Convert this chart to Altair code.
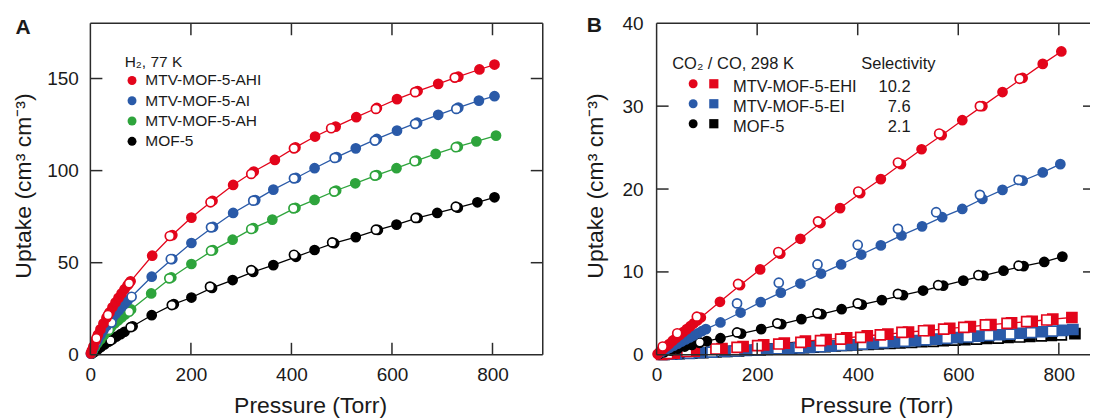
import altair as alt
import pandas as pd

FONT = "Liberation Sans"
INK = "#1a1a1a"
RED, BLUE, GREEN, BLACK = "#e3051b", "#2a5aa8", "#2ea43c", "#000000"

# ---------------- series names / colours ----------------
all_series = ["MTV-MOF-5-AHI", "MTV-MOF-5-AI", "MTV-MOF-5-AH",
              "MTV-MOF-5-EHI", "MTV-MOF-5-EI", "MOF-5"]
all_colors = [RED, BLUE, GREEN, RED, BLUE, BLACK]

# ---------------- Panel A : H2 at 77 K (pressure Torr, uptake cm3/cm3) ----------------
a_series = ["MTV-MOF-5-AHI", "MTV-MOF-5-AI", "MTV-MOF-5-AH", "MOF-5"]
a_colors = [RED, BLUE, GREEN, BLACK]

ahi_ads_p = [1, 3, 6, 10, 15, 20, 26, 32, 38, 44, 50, 56, 62, 68, 74, 80, 123, 163, 201, 243, 284,
             325, 367, 408, 447, 488, 529, 570, 610, 651, 692, 732, 774, 804]
ahi_ads_u = [0.8, 2.3, 4.5, 7.5, 10.9, 13.8, 17.0, 20.1, 23.0, 25.8, 28.4, 30.9, 33.3, 35.6, 37.8, 39.9,
             53.8, 65.0, 74.5, 83.6, 92.2, 99.5, 105.8, 112.6, 118.5, 123.9, 129.0, 134.0, 138.8,
             143.2, 147.1, 151.0, 154.9, 157.6]
ahi_des_p = [12, 35, 77, 158, 239, 320, 405, 479, 568, 646, 725]
ahi_des_u = [9.0, 21.6, 38.8, 64.5, 82.8, 98.2, 112.1, 123.0, 133.5, 142.6, 150.5]

ai_ads_p = [1, 3, 6, 10, 15, 20, 26, 32, 38, 44, 50, 56, 62, 68, 74, 122, 163, 201, 244, 284, 328,
            364, 409, 446, 490, 528, 570, 610, 650, 692, 732, 773, 804]
ai_ads_u = [0.6, 1.8, 3.5, 5.9, 8.5, 10.8, 13.3, 15.7, 17.9, 20.1, 22.2, 24.1, 26.0, 27.8, 29.5,
            42.4, 52.0, 60.7, 69.4, 77.0, 84.0, 89.7, 96.0, 101.3, 107.3, 112.1, 117.2, 121.7,
            126.0, 130.3, 134.2, 138.0, 140.4]
ai_des_p = [12, 42, 82, 160, 240, 324, 405, 486, 566, 646, 728]
ai_des_u = [7.0, 17.5, 31.5, 52.0, 69.2, 83.7, 95.8, 106.9, 116.3, 125.4, 133.5]

ah_ads_p = [2, 5, 9, 14, 20, 27, 34, 41, 48, 55, 62, 69, 81, 121, 161, 201, 244, 283, 324, 362, 408,
            446, 489, 527, 570, 609, 649, 687, 731, 768, 807]
ah_ads_u = [0.9, 2.3, 4.1, 6.3, 8.3, 10.7, 12.8, 15.0, 17.0, 18.6, 20.3, 21.9, 24.6, 33.3, 42.0,
            49.3, 56.8, 62.5, 68.8, 73.4, 79.8, 84.1, 89.2, 93.1, 97.6, 101.3, 105.4, 109.1,
            113.0, 115.9, 119.0]
ah_des_p = [37, 77, 157, 240, 320, 404, 485, 566, 645, 727]
ah_des_u = [13.5, 23.4, 41.5, 56.5, 68.3, 79.5, 88.6, 97.3, 105.1, 112.7]

m5h_ads_p = [3, 8, 14, 21, 28, 36, 44, 52, 60, 68, 84, 122, 166, 201, 242, 283, 324, 364, 409, 446,
             485, 528, 572, 609, 651, 690, 731, 770, 804]
m5h_ads_u = [0.6, 1.6, 2.8, 4.2, 5.6, 7.1, 8.5, 9.9, 11.2, 12.5, 15.5, 21.5, 27.5, 31.1, 36.3, 40.6,
             45.0, 48.7, 53.2, 56.9, 60.6, 63.9, 67.8, 70.7, 74.3, 77.0, 79.9, 82.8, 85.5]
m5h_des_p = [40, 80, 162, 238, 320, 405, 481, 568, 647, 727]
m5h_des_u = [7.8, 15.0, 27.0, 37.0, 46.0, 54.3, 61.0, 67.9, 74.3, 80.4]

# ---------------- Panel B : CO2 (circles) and CO (squares) at 298 K ----------------
b_series = ["MTV-MOF-5-EHI", "MTV-MOF-5-EI", "MOF-5"]
b_colors = [RED, BLUE, BLACK]
b_selectivity = ["10.2", "7.6", "2.1"]

ehi_co2_ads_p = [2, 7, 13, 19, 25, 32, 39, 46, 53, 60, 67, 74, 81, 88, 126, 166, 206, 246, 286, 326,
                 365, 405, 446, 486, 527, 567, 608, 648, 688, 728, 768, 805]
ehi_co2_ads_u = [0.1, 0.4, 0.7, 1.0, 1.3, 1.7, 2.05, 2.4, 2.75, 3.1, 3.45, 3.8, 4.15, 4.5, 6.4, 8.4,
                 10.3, 12.2, 14.0, 15.9, 17.7, 19.5, 21.2, 23.0, 24.8, 26.5, 28.3, 30.0, 31.7,
                 33.4, 35.1, 36.6]
ehi_co2_des_p = [12, 41, 80, 162, 242, 321, 401, 480, 562, 643, 722]
ehi_co2_des_u = [1.0, 2.6, 4.6, 8.55, 12.4, 16.1, 19.7, 23.2, 26.7, 30.0, 33.3]

ei_co2_ads_p = [3, 10, 18, 26, 34, 42, 50, 58, 66, 74, 82, 90, 98, 127, 167, 207, 247, 286, 327, 367,
                407, 446, 487, 528, 568, 608, 648, 688, 728, 768, 803]
ei_co2_ads_u = [0.1, 0.35, 0.6, 0.85, 1.1, 1.35, 1.6, 1.85, 2.1, 2.35, 2.6, 2.85, 3.1, 3.9, 5.1,
                6.35, 7.5, 8.6, 9.8, 10.9, 12.1, 13.2, 14.4, 15.5, 16.6, 17.6, 18.8, 19.9, 21.0,
                22.0, 23.0]
ei_co2_des_p = [160, 243, 320, 400, 480, 556, 643, 720]
ei_co2_des_u = [6.2, 8.7, 10.9, 13.25, 15.2, 17.2, 19.3, 21.1]

m5_co2_ads_p = [5, 15, 28, 42, 56, 70, 85, 100, 127, 168, 208, 248, 288, 328, 368, 408, 448, 490, 530,
                570, 610, 650, 690, 730, 771, 807]
m5_co2_ads_u = [0.1, 0.3, 0.5, 0.75, 1.0, 1.2, 1.45, 1.65, 2.0, 2.55, 3.1, 3.7, 4.3, 4.9, 5.5, 6.05,
                6.6, 7.2, 7.75, 8.35, 8.95, 9.55, 10.15, 10.7, 11.2, 11.85]
m5_co2_des_p = [86, 160, 240, 320, 400, 480, 560, 640, 720]
m5_co2_des_u = [1.5, 2.7, 3.8, 5.0, 6.2, 7.35, 8.4, 9.6, 10.75]

ehi_co_ads_p = [10, 35, 75, 130, 172, 213, 254, 296, 337, 378, 419, 460, 501, 542, 583, 624, 665, 706,
                747, 788, 826]
ehi_co_ads_u = [0.05, 0.2, 0.45, 0.75, 1.0, 1.2, 1.4, 1.65, 1.85, 2.05, 2.3, 2.5, 2.75, 2.95, 3.2,
                3.4, 3.65, 3.85, 4.05, 4.3, 4.5]
ehi_co_des_p = [22, 60, 118, 160, 201, 243, 287, 326, 366, 406, 445, 488, 531, 571, 611, 654, 697,
                736, 776]
ehi_co_des_u = [0.15, 0.4, 0.7, 0.9, 1.1, 1.3, 1.5, 1.7, 1.9, 2.1, 2.4, 2.7, 2.9, 3.1, 3.3, 3.6, 3.8,
                4.0, 4.2]

ei_co_ads_p = [12, 40, 85, 135, 178, 220, 262, 304, 346, 388, 430, 472, 514, 556, 598, 640, 682, 724,
               766, 808, 828]
ei_co_ads_u = [0.05, 0.12, 0.25, 0.4, 0.52, 0.65, 0.78, 0.9, 1.05, 1.2, 1.38, 1.55, 1.72, 1.9, 2.08,
               2.25, 2.42, 2.6, 2.78, 2.95, 3.05]
ei_co_des_p = [25, 65, 110, 156, 199, 241, 283, 325, 367, 409, 451, 493, 535, 577, 619, 661, 703,
               745, 787]
ei_co_des_u = [0.07, 0.18, 0.32, 0.46, 0.58, 0.71, 0.84, 0.97, 1.12, 1.28, 1.46, 1.63, 1.8, 1.98,
               2.15, 2.33, 2.5, 2.68, 2.85]

m5_co_ads_p = [15, 45, 92, 140, 183, 226, 269, 312, 355, 398, 441, 484, 527, 570, 613, 656, 699, 742,
               785, 832]
m5_co_ads_u = [0.04, 0.13, 0.27, 0.42, 0.55, 0.68, 0.8, 0.93, 1.06, 1.19, 1.32, 1.45, 1.58, 1.71,
               1.84, 1.97, 2.1, 2.22, 2.35, 2.55]
m5_co_des_p = [30, 70, 118, 163, 206, 249, 292, 335, 378, 421, 464, 507, 550, 593, 636, 679, 722,
               765, 805]
m5_co_des_u = [0.08, 0.2, 0.35, 0.48, 0.6, 0.73, 0.86, 0.99, 1.12, 1.25, 1.38, 1.5, 1.63, 1.76, 1.89,
               2.02, 2.15, 2.28, 2.4]


# ---------------- tables ----------------
def add(rows, series, gas, ads_p, ads_u, des_p, des_u, z):
    for p, u in zip(ads_p, ads_u):
        rows.append({"series": series, "gas": gas, "key": series + "|" + gas, "fk": series,
                     "br": "ads", "p": p, "u": u, "z": z})
    for p, u in zip(des_p, des_u):
        rows.append({"series": series, "gas": gas, "key": series + "|" + gas, "fk": "open",
                     "br": "des", "p": p, "u": u, "z": z + 0.5})


rows_a = []
add(rows_a, "MOF-5", "H2", m5h_ads_p, m5h_ads_u, m5h_des_p, m5h_des_u, 0)
add(rows_a, "MTV-MOF-5-AH", "H2", ah_ads_p, ah_ads_u, ah_des_p, ah_des_u, 1)
add(rows_a, "MTV-MOF-5-AI", "H2", ai_ads_p, ai_ads_u, ai_des_p, ai_des_u, 2)
add(rows_a, "MTV-MOF-5-AHI", "H2", ahi_ads_p, ahi_ads_u, ahi_des_p, ahi_des_u, 3)
df_a = pd.DataFrame(rows_a)

rows_b = []
add(rows_b, "MOF-5", "CO", m5_co_ads_p, m5_co_ads_u, m5_co_des_p, m5_co_des_u, 0)
add(rows_b, "MTV-MOF-5-EI", "CO", ei_co_ads_p, ei_co_ads_u, ei_co_des_p, ei_co_des_u, 1)
add(rows_b, "MTV-MOF-5-EHI", "CO", ehi_co_ads_p, ehi_co_ads_u, ehi_co_des_p, ehi_co_des_u, 2)
add(rows_b, "MOF-5", "CO2", m5_co2_ads_p, m5_co2_ads_u, m5_co2_des_p, m5_co2_des_u, 3)
add(rows_b, "MTV-MOF-5-EI", "CO2", ei_co2_ads_p, ei_co2_ads_u, ei_co2_des_p, ei_co2_des_u, 4)
add(rows_b, "MTV-MOF-5-EHI", "CO2", ehi_co2_ads_p, ehi_co2_ads_u, ehi_co2_des_p, ehi_co2_des_u, 5)
df_b = pd.DataFrame(rows_b)

H = 332
WA, WB = 453, 434
TICK = 12
FRAME = "#2b2b2b"

stroke_scale = alt.Scale(domain=all_series, range=all_colors)
fill_scale = alt.Scale(domain=all_series + ["open"], range=all_colors + ["#ffffff"])
shape_scale = alt.Scale(domain=["H2", "CO2", "CO"], range=["circle", "circle", "square"])
one = pd.DataFrame({"d": [0]})


def axis(values, pad):
    return alt.Axis(values=values, title=None, grid=False, domain=False, ticks=False, tickSize=0,
                    labelFont=FONT, labelFontSize=19, labelColor=INK, labelPadding=pad,
                    labelFlush=False, labelOverlap=False)


def text(t, x, y, size, weight="normal", align="left", baseline="alphabetic", angle=0):
    return alt.Chart(pd.DataFrame({"t": [t]})).mark_text(
        font=FONT, fontSize=size, fontWeight=weight, align=align, baseline=baseline,
        angle=angle, color=INK).encode(text="t:N", x=alt.value(x), y=alt.value(y))


def panel(df, W, xdom, ydom, xvals, yvals, ypad, ytitle_x, letter, letter_x, letter_y,
          right_tick):
    X = alt.X("p:Q", scale=alt.Scale(domain=xdom, nice=False, zero=False), axis=axis(xvals, 11))
    Y = alt.Y("u:Q", scale=alt.Scale(domain=ydom, nice=False, zero=False), axis=axis(yvals, ypad))

    lines = alt.Chart(df).transform_filter("datum.br == 'ads'").mark_line(
        strokeWidth=1.3).encode(
        x=X, y=Y,
        color=alt.Color("series:N", scale=stroke_scale, legend=None),
        detail="key:N", order="p:Q")

    pts = alt.Chart(df).transform_calculate(
        sz="datum.gas == 'CO' ? 100 : 82").mark_point(
        opacity=1, fillOpacity=1, strokeWidth=1.7).encode(
        x=X, y=Y,
        shape=alt.Shape("gas:N", scale=shape_scale, legend=None),
        fill=alt.Fill("fk:N", scale=fill_scale, legend=None),
        stroke=alt.Stroke("series:N", scale=stroke_scale, legend=None),
        size=alt.Size("sz:Q", scale=None),
        order=alt.Order("z:Q"))

    xt = pd.DataFrame({"p": [v for v in xvals if v > 0]})
    yt = pd.DataFrame({"u": [v for v in yvals if 0 < v < ydom[1]]})
    rule = dict(stroke=FRAME, strokeWidth=1.5)
    t_bot = alt.Chart(xt).mark_rule(**rule).encode(x=X, y=alt.value(H), y2=alt.value(H - TICK))
    t_top = alt.Chart(xt).mark_rule(**rule).encode(x=X, y=alt.value(0), y2=alt.value(TICK))
    t_lft = alt.Chart(yt).mark_rule(**rule).encode(y=Y, x=alt.value(0), x2=alt.value(TICK))
    t_rgt = alt.Chart(yt).mark_rule(**rule).encode(y=Y, x=alt.value(W),
                                                   x2=alt.value(W - right_tick))
    # frame lines: top, bottom, left (right edge drawn only where the panel is not cut)
    f_top = alt.Chart(one).mark_rule(**rule).encode(x=alt.value(0), x2=alt.value(W), y=alt.value(0))
    f_bot = alt.Chart(one).mark_rule(**rule).encode(x=alt.value(0), x2=alt.value(W), y=alt.value(H))
    f_lft = alt.Chart(one).mark_rule(**rule).encode(x=alt.value(0), y=alt.value(0), y2=alt.value(H))

    deco = [
        text("Pressure (Torr)", 220.5, H + 58, 23, align="center"),
        text("Uptake (cm³ cm⁻³)", ytitle_x, 163, 23, align="center", baseline="middle", angle=270),
        text(letter, letter_x, letter_y, 21, weight="bold"),
    ]
    return [lines, pts, t_bot, t_top, t_lft, t_rgt, f_top, f_bot, f_lft] + deco


# ---------------- legends ----------------
leg_a = pd.DataFrame({"name": a_series, "color": a_colors, "i": list(range(len(a_series)))})
la_base = alt.Chart(leg_a).transform_calculate(ly="57.3 + datum.i * 20.3")
la_dots = la_base.mark_point(filled=True, shape="circle", size=80, opacity=1).encode(
    x=alt.value(41.7), y=alt.Y("ly:Q", scale=None, axis=None),
    fill=alt.Fill("color:N", scale=None))
la_text = la_base.mark_text(font=FONT, fontSize=15.5, align="left", baseline="middle",
                            color=INK).encode(
    x=alt.value(55), y=alt.Y("ly:Q", scale=None, axis=None), text="name:N")
la_head = text("H₂, 77 K", 34.3, 43.3, 15.5)

leg_b = pd.DataFrame({"name": b_series, "color": b_colors, "sel": b_selectivity,
                      "i": list(range(len(b_series)))})
lb_base = alt.Chart(leg_b).transform_calculate(ly="60.6 + datum.i * 20", ty="64 + datum.i * 20")
lb_circ = lb_base.mark_point(filled=True, shape="circle", size=80, opacity=1).encode(
    x=alt.value(36.6), y=alt.Y("ly:Q", scale=None, axis=None),
    fill=alt.Fill("color:N", scale=None))
lb_sq = lb_base.mark_point(filled=True, shape="square", size=85, opacity=1).encode(
    x=alt.value(57.3), y=alt.Y("ly:Q", scale=None, axis=None),
    fill=alt.Fill("color:N", scale=None))
lb_text = lb_base.mark_text(font=FONT, fontSize=16.5, align="left", baseline="middle",
                            color=INK).encode(
    x=alt.value(76.6), y=alt.Y("ty:Q", scale=None, axis=None), text="name:N")
lb_sel = lb_base.mark_text(font=FONT, fontSize=16.5, align="right", baseline="middle",
                           color=INK).encode(
    x=alt.value(254.3), y=alt.Y("ty:Q", scale=None, axis=None), text="sel:N")
lb_head = text("CO₂ / CO, 298 K", 15.6, 46.3, 16.5)
lb_head2 = text("Selectivity", 205, 46.3, 16.5)

layers_a = panel(df_a, WA, [0, 900], [0, 180], [0, 200, 400, 600, 800], [0, 50, 100, 150],
                 12, -66, "A", -75, 10.6, TICK)
f_rgt_a = alt.Chart(one).mark_rule(stroke=FRAME, strokeWidth=1.5).encode(
    x=alt.value(WA), y=alt.value(0), y2=alt.value(H))
layers_b = panel(df_b, WB, [0, 862], [0, 40], [0, 200, 400, 600, 800], [0, 10, 20, 30, 40],
                 13.5, -61, "B", -70, 9, 7)

no_view = alt.ViewBackground(stroke="transparent")
chart_a = alt.layer(*layers_a, f_rgt_a, la_dots, la_text, la_head).properties(
    width=WA, height=H, view=no_view)
chart_b = alt.layer(*layers_b, lb_circ, lb_sq, lb_text, lb_sel, lb_head, lb_head2).properties(
    width=WB, height=H, view=no_view)

chart = alt.hconcat(chart_a, chart_b, spacing=114, bounds="flush").properties(
    padding={"left": 4.5, "top": 5, "right": 0, "bottom": 0},
    background="white",
).configure_view(stroke="transparent")

chart.save("out.html", embed_options={"renderer": "svg", "actions": False})
